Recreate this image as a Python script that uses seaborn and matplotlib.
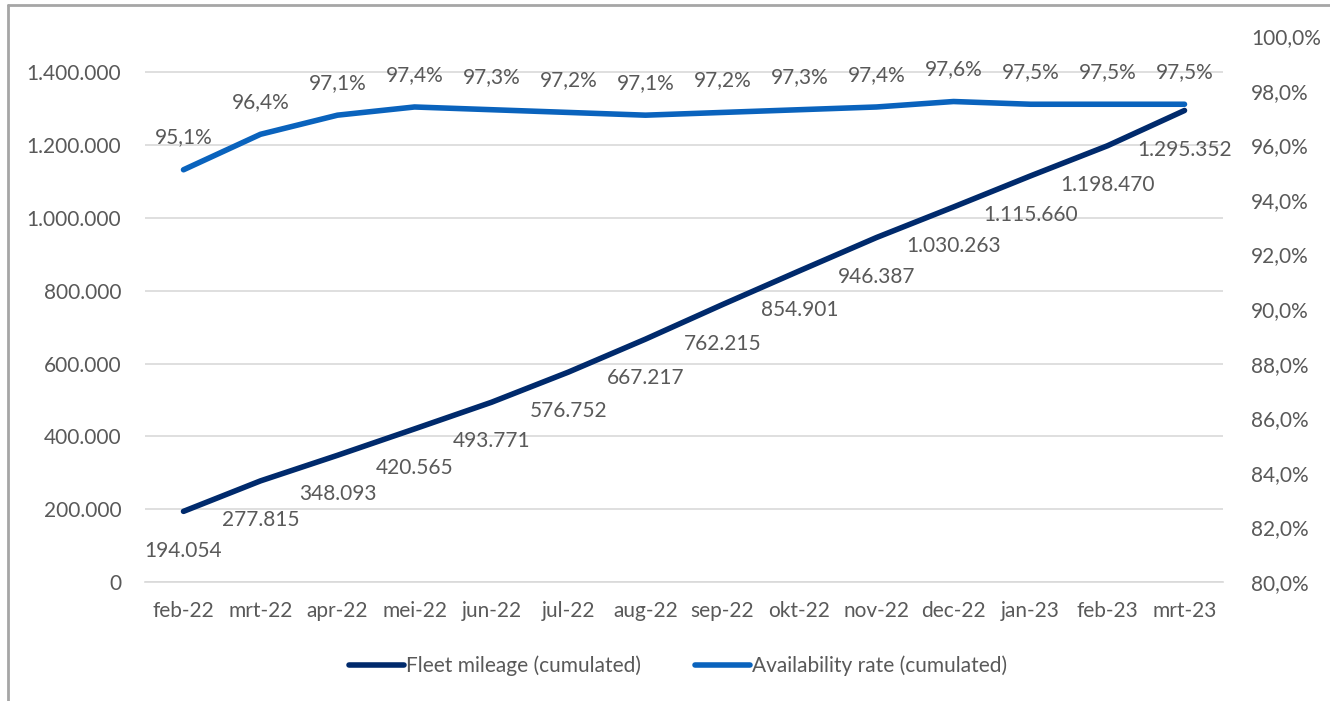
import matplotlib
matplotlib.use("Agg")
import matplotlib.pyplot as plt
import seaborn as sns
import pandas as pd
import numpy as np
from matplotlib.ticker import FuncFormatter, FixedLocator, MultipleLocator
from matplotlib.lines import Line2D

months = ["feb-22", "mrt-22", "apr-22", "mei-22", "jun-22", "jul-22", "aug-22",
          "sep-22", "okt-22", "nov-22", "dec-22", "jan-23", "feb-23", "mrt-23"]
mileage = [194054, 277815, 348093, 420565, 493771, 576752, 667217,
           762215, 854901, 946387, 1030263, 1115660, 1198470, 1295352]
availability = [95.1, 96.4, 97.1, 97.4, 97.3, 97.2, 97.1,
                97.2, 97.3, 97.4, 97.6, 97.5, 97.5, 97.5]

sns.set_theme(style="white")
plt.rcParams['font.family'] = ['Lato', 'DejaVu Sans']

TXT = "#595959"
GRID = "#D9D9D9"
DARK = "#002A6C"
LIGHT = "#0A63BD"
FS = 15

df = pd.DataFrame({"x": np.arange(len(months)), "mileage": mileage, "avail": availability})

fig = plt.figure(figsize=(13.3, 7.01), dpi=100)
ax = fig.add_axes([145/1330, 1-582/701, (1223-145)/1330, (582-36)/701])
ax2 = ax.twinx()

sns.lineplot(data=df, x="x", y="mileage", ax=ax, color=DARK, lw=4,
             solid_capstyle="round", label="Fleet mileage (cumulated)", legend=False)
sns.lineplot(data=df, x="x", y="avail", ax=ax2, color=LIGHT, lw=4,
             solid_capstyle="round", label="Availability rate (cumulated)", legend=False)

ax.set_xlim(-0.5, len(months) - 0.5)
ax.set_ylim(0, 1500000)
ax2.set_ylim(80, 100)

ax.yaxis.set_major_locator(FixedLocator(np.arange(0, 1400001, 200000)))
ax.yaxis.set_major_formatter(FuncFormatter(lambda v, p: f"{int(v):,}".replace(",", ".")))
ax2.yaxis.set_major_locator(MultipleLocator(2))
ax2.yaxis.set_major_formatter(FuncFormatter(lambda v, p: f"{v:.1f}%".replace(".", ",")))

ax.set_xticks(np.arange(len(months)))
ax.set_xticklabels(months)
ax.set_xticks(np.arange(-0.5, len(months)), minor=True)
ax.tick_params(axis="x", which="major", length=0, pad=14, labelsize=FS, colors=TXT)
ax.tick_params(axis="x", which="minor", length=6, width=1.2, color=GRID, direction="out")
ax.tick_params(axis="y", length=0, pad=17, labelsize=FS, colors=TXT)
ax2.tick_params(axis="y", length=0, pad=20, labelsize=FS, colors=TXT)
ax.set_xlabel("")
ax.set_ylabel("")
ax2.set_ylabel("")

ax.grid(axis="y", color=GRID, lw=1.2)
ax.set_axisbelow(True)
for a in (ax, ax2):
    for s in ["top", "left", "right"]:
        a.spines[s].set_visible(False)
    a.spines["bottom"].set_color(GRID)
    a.spines["bottom"].set_linewidth(1.2)
ax2.spines["bottom"].set_visible(False)

for i, v in enumerate(mileage):
    ax.annotate(f"{v:,}".replace(",", "."), (i, v), xytext=(0, -21), textcoords="offset points",
                ha="center", va="top", fontsize=FS, color=TXT)
for i, v in enumerate(availability):
    ax2.annotate(f"{v:.1f}%".replace(".", ","), (i, v), xytext=(0, 16), textcoords="offset points",
                 ha="center", va="bottom", fontsize=FS, color=TXT)

handles = [Line2D([0], [0], color=DARK, lw=4, solid_capstyle="round"),
           Line2D([0], [0], color=LIGHT, lw=4, solid_capstyle="round")]
fig.legend(handles, ["Fleet mileage (cumulated)", "Availability rate (cumulated)"],
           loc="center", bbox_to_anchor=(678/1330, 1-666/701), ncol=2, frameon=False,
           fontsize=FS, labelcolor=TXT, handlelength=2.65, handletextpad=0.1, columnspacing=2.6)

fig.add_artist(Line2D([8/1330, 8/1330], [0, 1-5/701], transform=fig.transFigure, color="#A6A6A6", lw=2))
fig.add_artist(Line2D([8/1330, 1], [1-5/701, 1-5/701], transform=fig.transFigure, color="#A6A6A6", lw=2))

fig.savefig("out.png", dpi=100)
